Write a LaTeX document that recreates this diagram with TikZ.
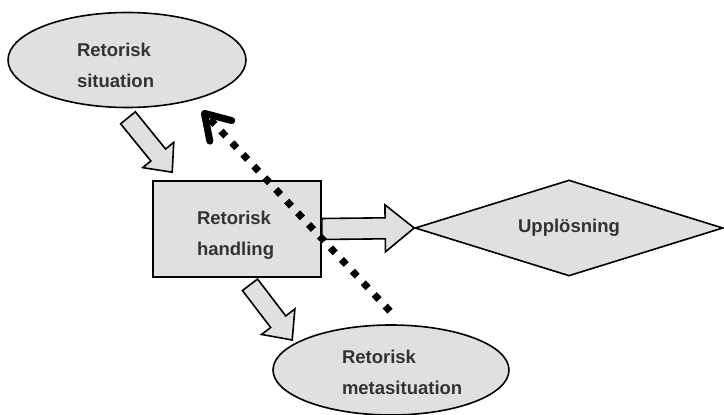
\documentclass[tikz,border=0pt]{standalone}
\usepackage{fontspec}
\setmainfont{Liberation Sans}
\usetikzlibrary{shapes.geometric,arrows.meta,calc}
\tikzstyle{part}=[draw=black,line width=1.6pt,fill=black!12,text=black!80,inner sep=0pt,
  font=\bfseries\fontsize{18.5}{31}\selectfont]
\tikzstyle{situation}=[part,ellipse,align=left,text height=24pt]
\tikzstyle{act}=[part,rectangle,align=left,text height=26pt]
\tikzstyle{outcome}=[part,diamond,aspect=3.2]
\tikzstyle{dotline}=[line width=7pt,dash pattern=on 7pt off 9pt,
  -{Straight Barb[length=24pt,width=30pt,round]}]
\tikzset{fat/.style n args={3}{draw=black,line width=1.6pt,fill=black!12,
  to path={let \p1=($(\tikztotarget)-(\tikztostart)$),\n1={atan2(\y1,\x1)},
    \n2={veclen(\x1,\y1)-#3},\n3={\n1+90},\n4={\n1-90} in
    ($(\tikztostart)+(\n3:#1)$) -- ($(\tikztostart)+(\n1:\n2)+(\n3:#1)$)
    -- ($(\tikztostart)+(\n1:\n2)+(\n3:#2)$) -- (\tikztotarget)
    -- ($(\tikztostart)+(\n1:\n2)+(\n4:#2)$) -- ($(\tikztostart)+(\n1:\n2)+(\n4:#1)$)
    -- ($(\tikztostart)+(\n4:#1)$) -- cycle}}}

\begin{document}
\begin{tikzpicture}[x=1pt,y=1pt]
  \useasboundingbox (0,0) rectangle (724,415);

  \node[situation,minimum width=238,minimum height=95,text width=100] (sit) at (127,355)
    {Retorisk\\situation};
  \node[act,minimum width=168,minimum height=96,text width=80] (hand) at (237,186)
    {Retorisk\\handling};
  \node[situation,minimum width=236,minimum height=90,text width=98,text height=19pt]
    (meta) at (391,45) {Retorisk\\metasituation};
  \node[outcome,minimum width=308,minimum height=96] (upp) at (569,187) {Upplösning};

  \coordinate (sit out) at ($(sit.south)+(1,-9.5)$);
  \coordinate (hand in) at ($(hand.north west)+(20,8)$);
  \coordinate (hand out) at ($(hand.south)+(13,-7)$);
  \coordinate (meta in) at ($(meta.west)+(20,30)$);
  \coordinate (meta out) at ($(meta.north)+(-1,13)$);
  \coordinate (sit in) at ($(sit.south)+(75,-2.5)$);

  \draw[fat={9.5}{20}{22}] (sit out) to (hand in);
  \draw[fat={10.5}{23.5}{29}] (hand.east) to (upp.west);
  \draw[fat={9.5}{21}{23}] (hand out) to (meta in);

  \draw[dotline] (meta out) -- (sit in);
\end{tikzpicture}
\end{document}
